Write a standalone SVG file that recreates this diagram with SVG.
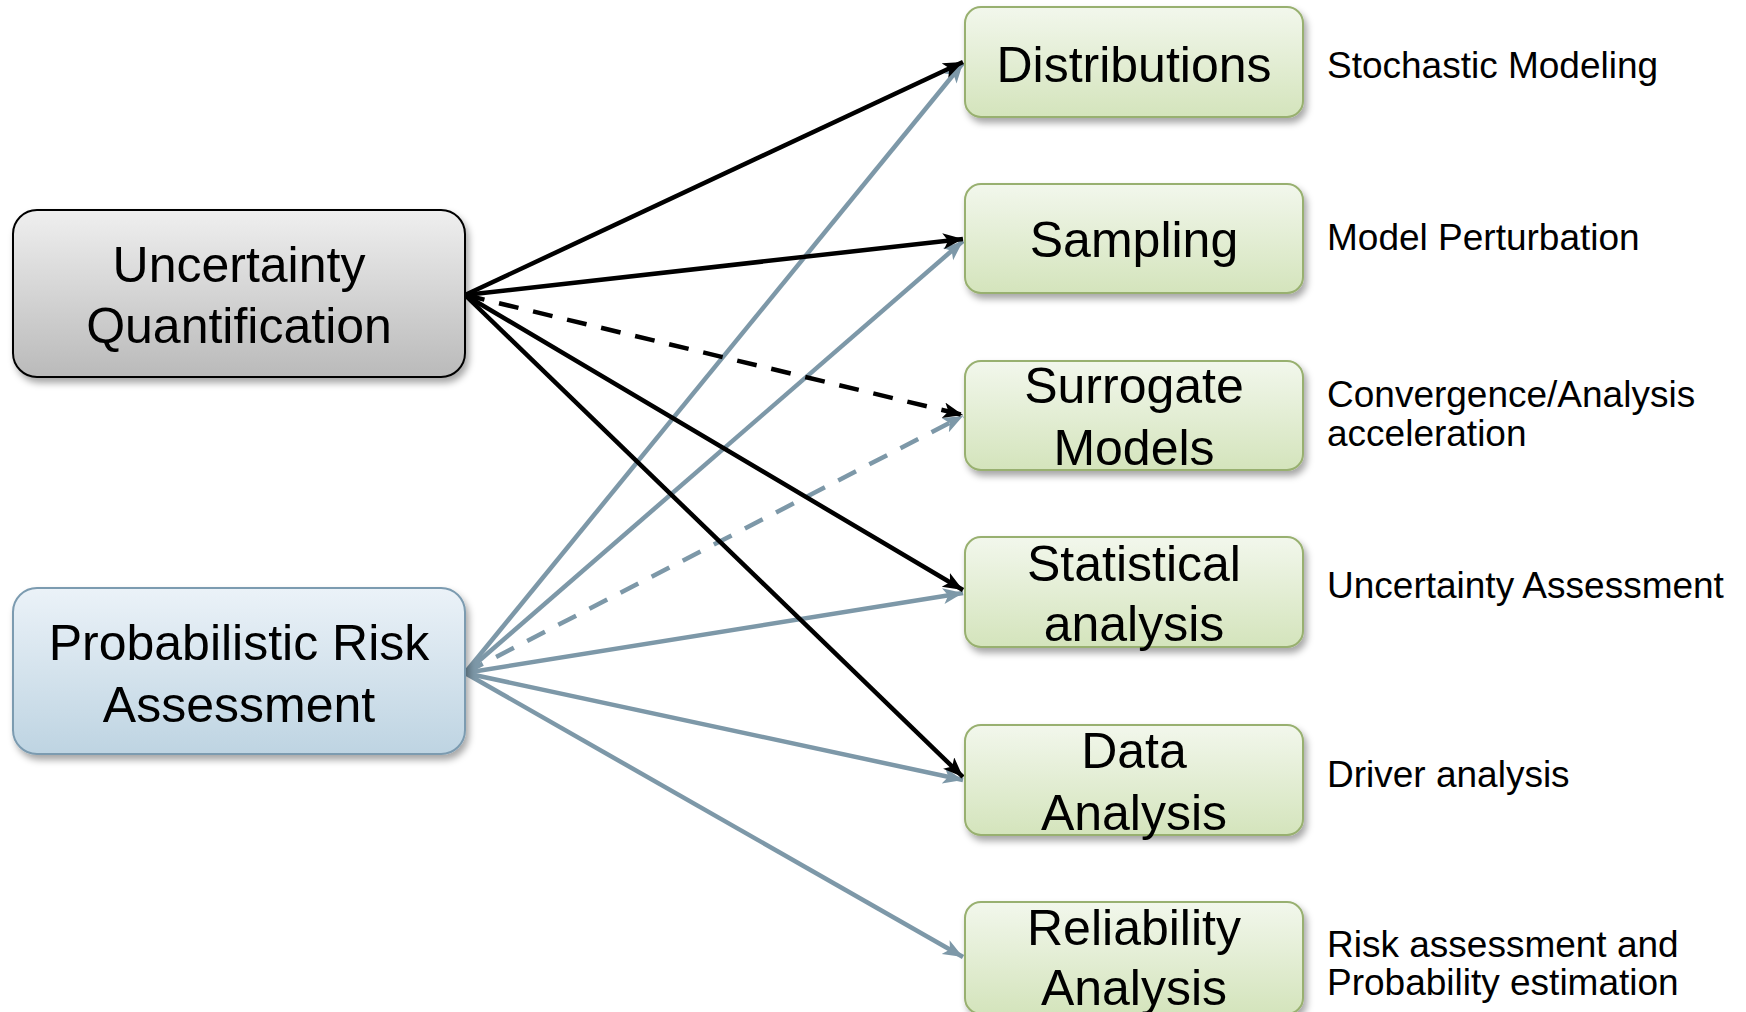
<svg xmlns="http://www.w3.org/2000/svg" width="1746" height="1012" viewBox="0 0 1746 1012">
<style>
.node-text{font-family:"Liberation Sans",Arial,sans-serif;font-size:50px;fill:#000;text-anchor:middle}
.label{font-family:"Liberation Sans",Arial,sans-serif;font-size:37px;fill:#000}
.blk{stroke:#000;stroke-width:4.5;fill:none;marker-end:url(#ahB)}
.blu{stroke:#7d98a8;stroke-width:4.5;fill:none;marker-end:url(#ahG)}
.dash{stroke-dasharray:20 15}
.green{fill:url(#gGreen);stroke:#98b06f;stroke-width:2}
</style>
<defs>
<linearGradient id="gGray" x1="0" y1="0" x2="0" y2="1">
<stop offset="0" stop-color="#efefef"/><stop offset="1" stop-color="#bababa"/>
</linearGradient>
<linearGradient id="gBlue" x1="0" y1="0" x2="0" y2="1">
<stop offset="0" stop-color="#ebf2f8"/><stop offset="1" stop-color="#bed4e2"/>
</linearGradient>
<linearGradient id="gGreen" x1="0" y1="0" x2="0" y2="1">
<stop offset="0" stop-color="#f2f7ec"/><stop offset="1" stop-color="#d4e4bc"/>
</linearGradient>
<filter id="sh" x="-10%" y="-10%" width="125%" height="135%">
<feDropShadow dx="3" dy="5" stdDeviation="3.5" flood-color="#000" flood-opacity="0.35"/>
</filter>
<marker id="ahB" markerUnits="userSpaceOnUse" markerWidth="22" markerHeight="18" refX="20" refY="8" orient="auto">
<path d="M0,0 L20,8 L0,16 L5,8 z" fill="#000"/>
</marker>
<marker id="ahG" markerUnits="userSpaceOnUse" markerWidth="22" markerHeight="18" refX="20" refY="8" orient="auto">
<path d="M0,0 L20,8 L0,16 L5,8 z" fill="#7d98a8"/>
</marker>
</defs>
<rect width="1746" height="1012" fill="#fff"/>

<g id="connectors">
<line class="blu" x1="465" y1="673" x2="963" y2="63"/>
<line class="blu" x1="465" y1="673" x2="963" y2="241"/>
<line class="blu dash" x1="465" y1="673" x2="963" y2="416"/>
<line class="blu" x1="465" y1="673" x2="963" y2="593"/>
<line class="blu" x1="465" y1="673" x2="963" y2="780"/>
<line class="blu" x1="465" y1="673" x2="963" y2="957"/>
<line class="blk" x1="465" y1="295" x2="963" y2="62"/>
<line class="blk" x1="465" y1="295" x2="963" y2="239"/>
<line class="blk dash" x1="465" y1="295" x2="963" y2="415"/>
<line class="blk" x1="465" y1="295" x2="963" y2="590"/>
<line class="blk" x1="465" y1="295" x2="963" y2="777"/>
</g>

<g id="uq">
<rect x="13" y="210" width="452" height="167" rx="24" fill="url(#gGray)" stroke="#000" stroke-width="2" filter="url(#sh)"/>
<text class="node-text" x="239" y="282">Uncertainty</text>
<text class="node-text" x="239" y="343">Quantification</text>
</g>
<g id="pra">
<rect x="13" y="588" width="452" height="166" rx="24" fill="url(#gBlue)" stroke="#7b9bb0" stroke-width="2" filter="url(#sh)"/>
<text class="node-text" x="239" y="660">Probabilistic Risk</text>
<text class="node-text" x="239" y="722">Assessment</text>
</g>

<g id="distributions">
<rect class="green" x="965" y="7" width="338" height="110" rx="16" filter="url(#sh)"/>
<text class="node-text" x="1134" y="82">Distributions</text>
</g>
<g id="sampling">
<rect class="green" x="965" y="184" width="338" height="109" rx="16" filter="url(#sh)"/>
<text class="node-text" x="1134" y="257">Sampling</text>
</g>
<g id="surrogate">
<rect class="green" x="965" y="361" width="338" height="109" rx="16" filter="url(#sh)"/>
<text class="node-text" x="1134" y="403">Surrogate</text>
<text class="node-text" x="1134" y="465">Models</text>
</g>
<g id="statistical">
<rect class="green" x="965" y="537" width="338" height="110" rx="16" filter="url(#sh)"/>
<text class="node-text" x="1134" y="581">Statistical</text>
<text class="node-text" x="1134" y="641">analysis</text>
</g>
<g id="data">
<rect class="green" x="965" y="725" width="338" height="110" rx="16" filter="url(#sh)"/>
<text class="node-text" x="1134" y="768">Data</text>
<text class="node-text" x="1134" y="830">Analysis</text>
</g>
<g id="reliability">
<rect class="green" x="965" y="902" width="338" height="112" rx="16" filter="url(#sh)"/>
<text class="node-text" x="1134" y="945">Reliability</text>
<text class="node-text" x="1134" y="1005">Analysis</text>
</g>

<g id="labels">
<text class="label" x="1327" y="78">Stochastic Modeling</text>
<text class="label" x="1327" y="250">Model Perturbation</text>
<text class="label" x="1327" y="407">Convergence/Analysis</text>
<text class="label" x="1327" y="446">acceleration</text>
<text class="label" x="1327" y="598">Uncertainty Assessment</text>
<text class="label" x="1327" y="787">Driver analysis</text>
<text class="label" x="1327" y="957">Risk assessment and</text>
<text class="label" x="1327" y="995">Probability estimation</text>
</g>
</svg>
